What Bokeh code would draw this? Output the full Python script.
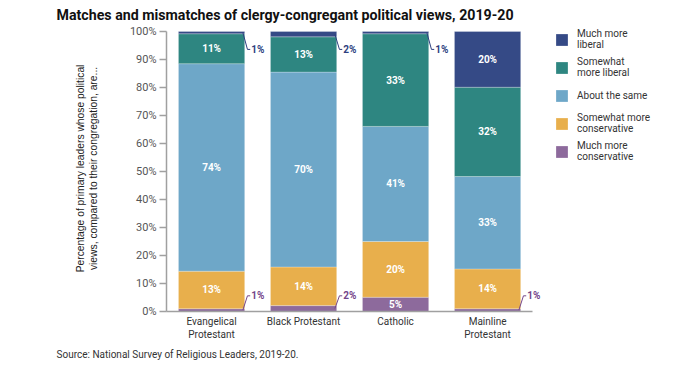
from bokeh.plotting import figure
from bokeh.models import ColumnDataSource, FixedTicker, Legend, LegendItem, Title, Range1d
from bokeh.embed import file_html
from bokeh.resources import INLINE
from bokeh.core.properties import value

# ---- data ----
categories = ["Evangelical\nProtestant", "Black Protestant", "Catholic", "Mainline\nProtestant"]
series = ["much_cons", "some_cons", "same", "some_lib", "much_lib"]
series_labels = ["Much more\nconservative", "Somewhat more\nconservative", "About the same",
                 "Somewhat\nmore liberal", "Much more\nliberal"]
much_cons = [1.0, 2.1, 5.1, 1.0]
some_cons = [13.4, 13.8, 19.9, 14.2]
same = [74.1, 69.6, 41.1, 33.0]
some_lib = [10.7, 12.6, 33.1, 31.9]
much_lib = [0.8, 1.9, 0.8, 19.9]
colors = ["#8d6a9c", "#e8af4c", "#6ea7c8", "#2e8681", "#354a86"]
y_ticks = [0, 10, 20, 30, 40, 50, 60, 70, 80, 90, 100]
y_tick_labels = ["0%", "10%", "20%", "30%", "40%", "50%", "60%", "70%", "80%", "90%", "100%"]

title_text = "Matches and mismatches of clergy-congregant political views, 2019-20"
source_text = "Source: National Survey of Religious Leaders, 2019-20."
y_label = "Percentage of primary leaders whose political\nviews, compared to their congregation, are..."

FONT = "Roboto"
xs = list(range(len(categories)))
data = dict(x=xs, much_cons=much_cons, some_cons=some_cons, same=same,
            some_lib=some_lib, much_lib=much_lib)
src = ColumnDataSource(data)

W, H = 698, 368
LEFT, TOP, BOTTOM = 166, 25, 57
PX_PER_PCT = 2.8
# frame spans from the y axis to the right edge; 92 px per category; a little headroom above 100%
p = figure(width=W, height=H, output_backend="svg", toolbar_location=None,
           x_range=Range1d(-0.49, -0.49 + (W - LEFT) / 92),
           y_range=Range1d(0, (H - TOP - BOTTOM) / PX_PER_PCT),
           min_border_left=LEFT, min_border_right=0, min_border_top=TOP, min_border_bottom=BOTTOM)
p.outline_line_color = None
p.grid.visible = False

renderers = p.vbar_stack(series, x="x", width=0.72, source=src, fill_color=colors,
                         line_color="white", line_alpha=0.25, line_width=1)

# ---- labels ----
in_x, in_y, in_t = [], [], []
top_lx, top_ly, top_tx, top_ty, top_tt = [], [], [], [], []
bot_lx, bot_ly, bot_tx, bot_ty, bot_tt = [], [], [], [], []
for i in xs:
    vals = [data[s][i] for s in series]
    base = 0.0
    for j, v in enumerate(vals):
        lab = f"{int(round(v))}%"
        if v >= 4:
            in_x.append(i); in_y.append(base + v / 2); in_t.append(lab)
        elif j == len(vals) - 1:
            top_lx.append([i + 0.34, i + 0.39, i + 0.42])
            top_ly.append([base + v / 2, 93.6, 93.6])
            top_tx.append(i + 0.43); top_ty.append(93.6); top_tt.append(lab)
        elif j == 0:
            bot_lx.append([i + 0.34, i + 0.39, i + 0.42])
            bot_ly.append([v / 2, 5.6, 5.6])
            bot_tx.append(i + 0.43); bot_ty.append(5.6); bot_tt.append(lab)
        base += v

p.text(x=in_x, y=in_y, text=in_t, text_color="white", text_font=value(FONT),
       text_font_style="bold", text_font_size="10px", text_align="center", text_baseline="middle")
p.multi_line(xs=top_lx, ys=top_ly, line_color="#2e3f7f", line_width=1)
p.text(x=top_tx, y=top_ty, text=top_tt, text_color="#2e3f7f", text_font=value(FONT),
       text_font_style="bold", text_font_size="10px", text_align="left", text_baseline="middle")
p.multi_line(xs=bot_lx, ys=bot_ly, line_color="#74468a", line_width=1)
p.text(x=bot_tx, y=bot_ty, text=bot_tt, text_color="#74468a", text_font=value(FONT),
       text_font_style="bold", text_font_size="10px", text_align="left", text_baseline="middle")

# ---- axes ----
p.yaxis.ticker = FixedTicker(ticks=y_ticks)
p.yaxis.bounds = (0, 100)
p.yaxis.major_label_overrides = {t: l for t, l in zip(y_ticks, y_tick_labels)}
p.yaxis.minor_tick_line_color = None
p.yaxis.major_tick_out = 7
p.yaxis.major_tick_in = 0
p.yaxis.axis_line_color = "#a0a0a0"
p.yaxis.axis_line_width = 1.5
p.yaxis.major_tick_line_color = "#a0a0a0"
p.yaxis.major_tick_line_width = 1.5
p.yaxis.major_label_text_font = FONT
p.yaxis.major_label_text_font_size = "11px"
p.yaxis.major_label_text_color = "#555555"
p.yaxis.major_label_standoff = 3
p.yaxis.axis_label = y_label
p.yaxis.axis_label_text_font = "Liberation Sans"
p.yaxis.axis_label_text_font_size = "10.3px"
p.yaxis.axis_label_text_font_style = "normal"
p.yaxis.axis_label_text_color = "#222222"
p.yaxis.axis_label_standoff = 28

p.xaxis.ticker = FixedTicker(ticks=xs)
p.xaxis.bounds = (-0.49, 3.49)
p.xaxis.major_label_overrides = {i: c for i, c in zip(xs, categories)}
p.xaxis.minor_tick_line_color = None
p.xaxis.major_tick_line_color = None
p.xaxis.axis_line_color = "#a0a0a0"
p.xaxis.axis_line_width = 1.5
p.xaxis.major_label_text_font = FONT
p.xaxis.major_label_text_font_size = "10px"
p.xaxis.major_label_text_color = "#333333"
p.xaxis.major_label_standoff = -2

# ---- title / source ----
p.title.text = title_text
p.title.text_font = FONT
p.title.text_font_size = "14.2px"
p.title.text_font_style = "bold"
p.title.text_color = "#111111"
p.title.align = "left"
p.title.offset = -110
p.title.standoff = 6
p.add_layout(Title(text=source_text, align="left", offset=-110, standoff=8, text_font=FONT,
                   text_font_size="10px", text_font_style="normal", text_color="#333333"), "below")

# ---- legend (inside the extended frame, right of the bars) ----
items = [LegendItem(label=series_labels[k], renderers=[renderers[k]]) for k in reversed(range(len(series)))]
legend = Legend(items=items, location=(388, 148), margin=0, padding=0, spacing=4,
                glyph_width=15, glyph_height=15, label_standoff=8, label_height=24,
                label_text_font=FONT, label_text_font_size="10px", label_text_color="#333333",
                border_line_color=None, background_fill_alpha=0)
p.add_layout(legend)

open("out.html", "w").write(file_html(p, INLINE))
